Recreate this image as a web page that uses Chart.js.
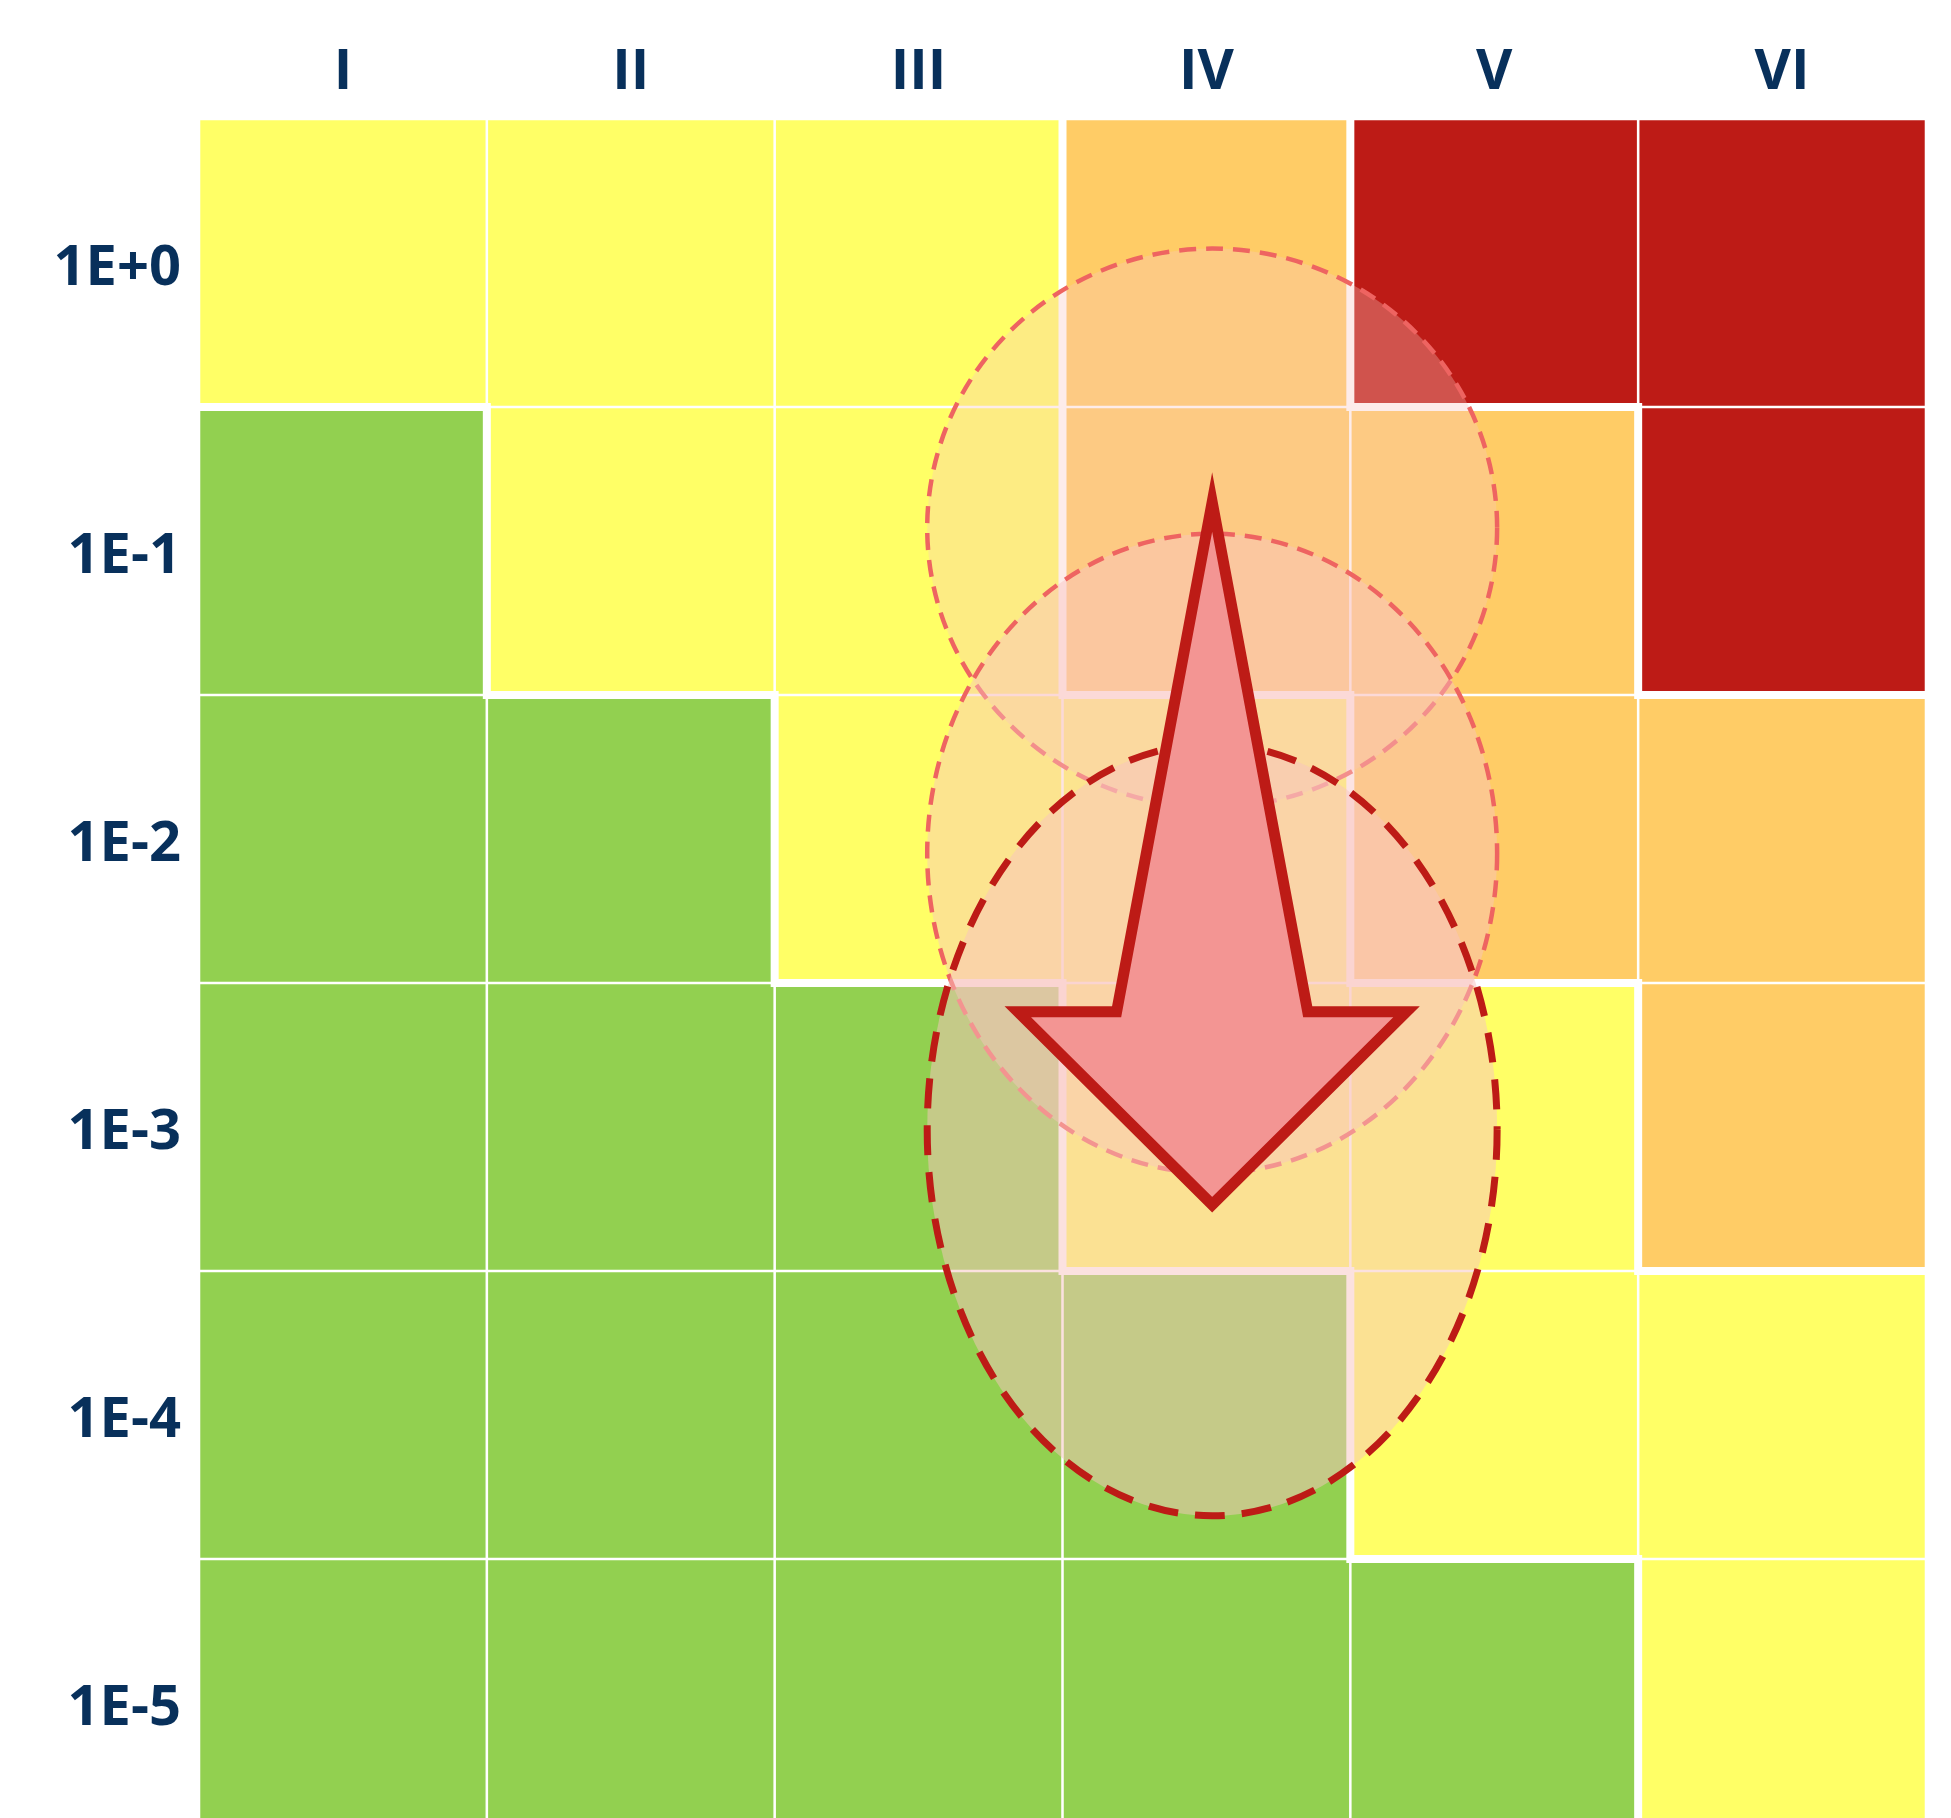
<!DOCTYPE html>
<html>
<head>
<meta charset="utf-8">
<title>Risk matrix</title>
<script src="https://cdn.jsdelivr.net/npm/chart.js@4.4.1/dist/chart.umd.min.js"></script>
<style>
  html, body { margin: 0; padding: 0; background: #fff; }
  .wrap { width: 1951px; height: 1818px; overflow: hidden; }
  canvas { display: block; }
</style>
</head>
<body>
<div class="wrap"><canvas id="riskChart" width="1951" height="1850"></canvas></div>
<script>
// ── DATA ──
const severityCols = ['I', 'II', 'III', 'IV', 'V', 'VI'];
const frequencyRows = ['1E+0', '1E-1', '1E-2', '1E-3', '1E-4', '1E-5'];
// zone per cell, top row (1E+0) first: 0 low, 1 medium, 2 high, 3 very high
const zoneRows = [
  [1, 1, 1, 2, 3, 3],
  [0, 1, 1, 2, 2, 3],
  [0, 0, 1, 1, 2, 2],
  [0, 0, 0, 1, 1, 2],
  [0, 0, 0, 0, 1, 1],
  [0, 0, 0, 0, 0, 1],
];
const zoneColors = ['#92d050', '#ffff66', '#ffcc66', '#bd1b16'];

// frequency estimates (severity index, log10 frequency, spread in columns / decades)
const estimateSeverity = [3.02, 3.02, 3.02];
const estimateLogFreq = [-0.92, -2.05, -3.01];
const estimateSpreadCol = [0.99, 0.99, 0.99];
const estimateSpreadDec = [0.97, 1.11, 1.34];
// arrow: start, head base, tip (log10 frequency)
const arrowSeverity = 3.02;
const arrowLogFreq = [-0.83, -2.60, -3.27];

const NAVY = '#08305b';
const labelFont = { family: "'Open Sans', sans-serif", size: 56, weight: 'bold' };

// ── OVERLAYS: zone contour, estimate rings, arrow ──
const ringStyles = [
  { fill: 'rgba(248,196,192,0.33)', stroke: '#ee6461', width: 4.5, dash: [17, 10] },
  { fill: 'rgba(248,196,192,0.45)', stroke: '#ee6461', width: 4.5, dash: [17, 10] },
  { fill: 'rgba(248,196,192,0.5)', stroke: '#bd1b16', width: 7, dash: [30, 17] },
];

const overlayPlugin = {
  id: 'overlays',
  afterDatasetsDraw(chart) {
    const { ctx, scales: { x, y } } = chart;
    const px = v => x.getPixelForValue(v);
    const py = f => y.getPixelForValue(5.5 + f);
    const colW = px(1) - px(0);
    const rowH = y.getPixelForValue(0) - y.getPixelForValue(1);

    ctx.save();
    // thick white lines where the zone changes
    ctx.strokeStyle = '#ffffff';
    ctx.lineWidth = 8;
    ctx.lineCap = 'square';
    ctx.beginPath();
    zoneRows.forEach((row, r) => {
      const top = y.getPixelForValue(6 - r);
      const bottom = y.getPixelForValue(5 - r);
      row.forEach((z, c) => {
        if (c < row.length - 1 && z !== row[c + 1]) {
          const xe = px(c + 0.5);
          ctx.moveTo(xe, top);
          ctx.lineTo(xe, bottom);
        }
        if (r < zoneRows.length - 1 && z !== zoneRows[r + 1][c]) {
          ctx.moveTo(px(c - 0.5), bottom);
          ctx.lineTo(px(c + 0.5), bottom);
        }
      });
    });
    ctx.stroke();

    // estimate rings
    ctx.lineCap = 'butt';
    estimateLogFreq.forEach((f, i) => {
      const st = ringStyles[i];
      ctx.beginPath();
      ctx.ellipse(px(estimateSeverity[i]), py(f), estimateSpreadCol[i] * colW, estimateSpreadDec[i] * rowH, 0, 0, Math.PI * 2);
      ctx.fillStyle = st.fill;
      ctx.fill();
      ctx.setLineDash(st.dash);
      ctx.lineWidth = st.width;
      ctx.strokeStyle = st.stroke;
      ctx.stroke();
    });

    // arrow
    const ax = px(arrowSeverity);
    const yTop = py(arrowLogFreq[0]);
    const yBase = py(arrowLogFreq[1]);
    const yTip = py(arrowLogFreq[2]);
    const shaft = 0.332 * colW;
    const head = 0.675 * colW;
    ctx.setLineDash([]);
    ctx.beginPath();
    ctx.moveTo(ax, yTop);
    ctx.lineTo(ax + shaft, yBase);
    ctx.lineTo(ax + head, yBase);
    ctx.lineTo(ax, yTip);
    ctx.lineTo(ax - head, yBase);
    ctx.lineTo(ax - shaft, yBase);
    ctx.closePath();
    ctx.fillStyle = '#f39593';
    ctx.fill();
    ctx.lineWidth = 11;
    ctx.lineJoin = 'miter';
    ctx.miterLimit = 10;
    ctx.strokeStyle = '#bd1b16';
    ctx.stroke();
    ctx.restore();
  },
};

// ── MATRIX CELLS (stacked bars, bottom row first) ──
const datasets = frequencyRows.slice().reverse().map((label, k) => ({
  label,
  data: severityCols.map(() => 1),
  backgroundColor: zoneRows[zoneRows.length - 1 - k].map(z => zoneColors[z]),
  borderColor: '#ffffff',
  borderWidth: 1.6,
  borderSkipped: false,
  barPercentage: 1,
  categoryPercentage: 1,
}));

new Chart(document.getElementById('riskChart'), {
  type: 'bar',
  data: { labels: severityCols, datasets },
  options: {
    responsive: false,
    animation: false,
    layout: { padding: { left: 0, right: 25, top: 0, bottom: 3 } },
    plugins: { legend: { display: false }, tooltip: { enabled: false } },
    scales: {
      x: {
        position: 'top',
        stacked: true,
        grid: { display: false, drawTicks: false },
        border: { display: false },
        ticks: { color: NAVY, font: labelFont, padding: 12 },
        afterFit: s => {
          s.height = 119;
          s.paddingLeft = 0;
          s.paddingRight = 0;
        },
      },
      y: {
        stacked: true,
        min: 0,
        max: 6,
        grid: { display: false, drawTicks: false },
        border: { display: false },
        // label sits a touch below the row middle, as in the source
        afterBuildTicks: s => { s.ticks = frequencyRows.map((_, i) => ({ value: 5.48 - i })); },
        ticks: {
          color: NAVY,
          font: labelFont,
          padding: 18,
          autoSkip: false,
          callback: v => frequencyRows[Math.round(5.5 - v)],
        },
        afterFit: s => {
          s.width = 199;
          s.paddingTop = 0;
          s.paddingBottom = 0;
        },
      },
    },
  },
  plugins: [overlayPlugin],
});
</script>
</body>
</html>
